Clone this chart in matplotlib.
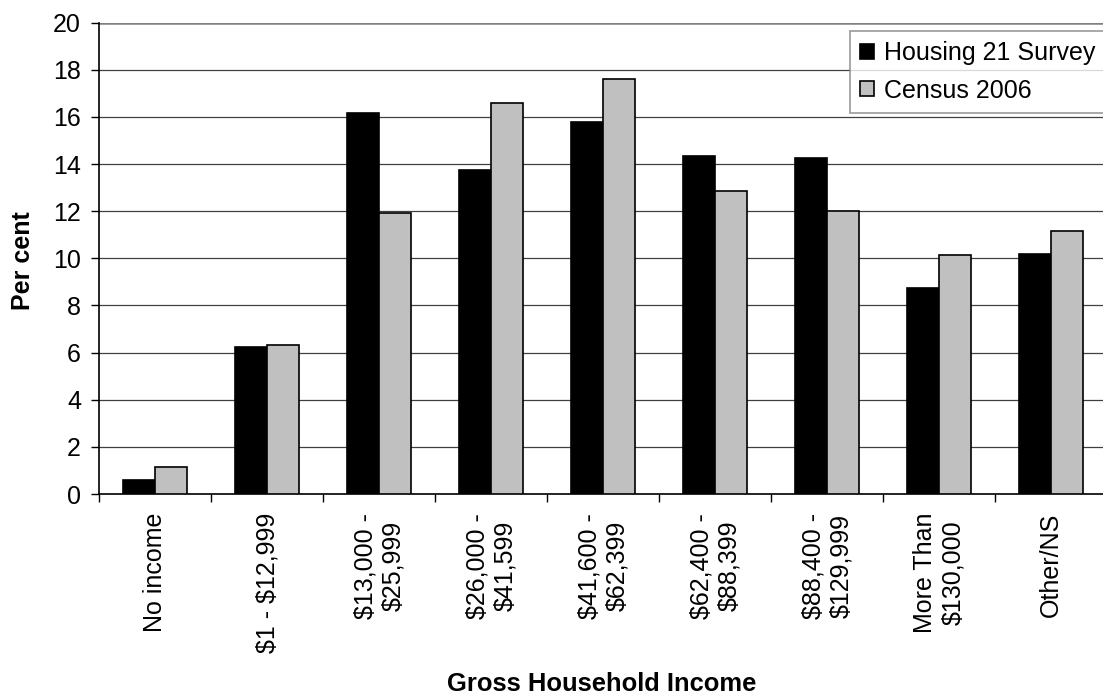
import matplotlib
matplotlib.use("Agg")
import matplotlib.pyplot as plt
import numpy as np

plt.rcParams['font.family'] = ['Liberation Sans', 'DejaVu Sans']
plt.rcParams['text.parse_math'] = False

categories = ["No income", "$1 - $12,999", "$13,000 -\n$25,999", "$26,000 -\n$41,599",
              "$41,600 -\n$62,399", "$62,400 -\n$88,399", "$88,400 -\n$129,999",
              "More Than\n$130,000", "Other/NS"]
housing21 = [0.6, 6.25, 16.18, 13.73, 15.77, 14.33, 14.24, 8.73, 10.17]
census2006 = [1.16, 6.34, 11.94, 16.6, 17.62, 12.87, 12.02, 10.14, 11.17]
yticks = [0, 2, 4, 6, 8, 10, 12, 14, 16, 18, 20]

FS = 18
W, H = 1103, 697
fig = plt.figure(figsize=(W / 100, H / 100), dpi=100)
ax = fig.add_axes([99 / W, 1 - 494 / H, 1008 / W, (494 - 22.7) / H])

x = np.arange(len(categories)) + 0.5
bw = 0.29
ax.bar(x - bw / 2, housing21, width=bw, color='black', edgecolor='black',
       linewidth=1.2, zorder=3, label='Housing 21 Survey')
ax.bar(x + bw / 2, census2006, width=bw, color='#C0C0C0', edgecolor='black',
       linewidth=1.2, zorder=3, label='Census 2006')

ax.set_xlim(0, len(categories))
ax.set_ylim(0, 20)
ax.set_yticks(yticks)
ax.set_yticklabels([str(v) for v in yticks], fontsize=FS)
for v in yticks[1:]:
    ax.axhline(v, color='#404040' if v < 20 else '#808080',
               lw=0.9 if v < 20 else 1.8, zorder=1)

ax.set_xticks(np.arange(len(categories) + 1))
ax.set_xticklabels([])
ax.set_xticks(x, minor=True)
ax.set_xticklabels(categories, minor=True, rotation=90, fontsize=FS,
                   va='top', ha='center', multialignment='center')
ax.tick_params(axis='x', which='minor', length=0, pad=13.5)
ax.tick_params(axis='x', which='major', length=6, width=1, direction='out')
ax.tick_params(axis='y', length=6, width=1, direction='out', pad=7)

for s in ['top', 'right']:
    ax.spines[s].set_visible(False)
ax.spines['left'].set_linewidth(1.2)
ax.spines['bottom'].set_linewidth(1.2)

fig.text(23 / W, 1 - 261 / H, 'Per cent', fontsize=FS, fontweight='bold',
         rotation=90, ha='center', va='center')
fig.text(602 / W, 1 - 684 / H, 'Gross Household Income', fontsize=18.4,
         fontweight='bold', ha='center', va='center')

leg = ax.legend(loc='upper left', bbox_to_anchor=(850 / W, 1 - 31 / H),
                bbox_transform=fig.transFigure, fontsize=FS, frameon=True,
                fancybox=False, shadow=False, handlelength=0.55, handleheight=0.55,
                handletextpad=0.4, labelspacing=0.55, borderpad=0.4,
                borderaxespad=0)
leg.get_frame().set_edgecolor('#808080')
leg.get_frame().set_linewidth(1.2)

fig.savefig('out.png', dpi=100)
